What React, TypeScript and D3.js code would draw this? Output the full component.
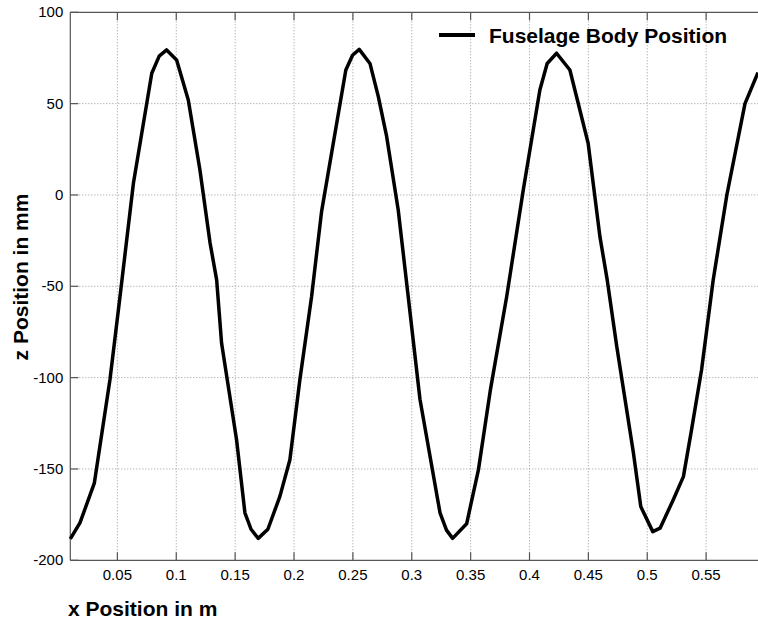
import React, { useEffect, useRef } from 'react';
import * as d3 from 'd3';

// values
const xPos = [0.01, 0.0182, 0.0304, 0.0437, 0.0522, 0.0636, 0.0792, 0.0855, 0.0918, 0.1003, 0.1102, 0.1201, 0.1287, 0.1343, 0.1385, 0.1512, 0.1583, 0.1635, 0.1696,
  0.1778, 0.188, 0.1965, 0.205, 0.2149, 0.2234, 0.244, 0.2497, 0.2554, 0.2645, 0.2716, 0.2787, 0.2885, 0.297, 0.307, 0.324, 0.3295, 0.3347,
  0.3466, 0.3566, 0.3667, 0.3806, 0.3947, 0.4088, 0.415, 0.423, 0.4343, 0.4498, 0.4598, 0.466, 0.4741, 0.4882, 0.4945, 0.5047,
  0.5109, 0.522, 0.5307, 0.5376, 0.5461, 0.556, 0.5676, 0.583, 0.594];
const zPos = [-188.3, -179.5, -157.8, -101, -55.7, 6.4, 66.6, 76, 79.4, 73.9, 52, 13.7, -26.3, -46.5, -81.2, -134, -174, -183, -188,
  -183, -165, -145, -101, -55.7, -9.1, 68.4, 76.5, 79.7, 72, 53.8, 31.9, -8.2, -55.7, -112, -174, -183.5, -188,
  -180, -150.5, -107, -55.7, 2.7, 57.5, 72, 77.6, 68.4, 28.3, -22.8, -46.5, -83, -141, -170.6, -184.3,
  -182.4, -167, -154.2, -128.6, -95.8, -46.5, 0, 50, 67];

const xTicks = [0.05, 0.1, 0.15, 0.2, 0.25, 0.3, 0.35, 0.4, 0.45, 0.5, 0.55];
const yTicks = [100, 50, 0, -50, -100, -150, -200];

const W = 758;
const H = 622;
const margin = { left: 70.3, top: 12.3, right: 765, bottom: 560.3 };

const App = () => {
  const svgRef = useRef<SVGSVGElement>(null);

  useEffect(() => {
    const svg = d3.select(svgRef.current);
    svg.selectAll('*').remove();

    const x = d3.scaleLinear().domain([0.01, 0.6]).range([margin.left, margin.right]);
    const y = d3.scaleLinear().domain([-200, 100]).range([margin.bottom, margin.top]);
    const font = 'Liberation Sans, Arial, Helvetica, sans-serif';

    // dotted grid
    const grid = svg.append('g').attr('stroke', '#999').attr('stroke-width', 1).attr('stroke-dasharray', '1,2');
    grid.selectAll('.vg').data(xTicks).enter().append('line')
      .attr('x1', d => x(d)).attr('x2', d => x(d))
      .attr('y1', margin.top).attr('y2', margin.bottom);
    grid.selectAll('.hg').data(yTicks.filter(d => d > -200 && d < 100)).enter().append('line')
      .attr('x1', margin.left).attr('x2', W)
      .attr('y1', d => y(d)).attr('y2', d => y(d));

    // frame + inward ticks
    const axes = svg.append('g').attr('stroke', '#555').attr('stroke-width', 1.2).attr('fill', 'none');
    axes.append('line').attr('x1', margin.left).attr('x2', W).attr('y1', margin.top).attr('y2', margin.top);
    axes.append('line').attr('x1', margin.left).attr('x2', W).attr('y1', margin.bottom).attr('y2', margin.bottom);
    axes.append('line').attr('x1', margin.left).attr('x2', margin.left).attr('y1', margin.top).attr('y2', margin.bottom);
    xTicks.forEach(t => {
      axes.append('line').attr('x1', x(t)).attr('x2', x(t)).attr('y1', margin.bottom).attr('y2', margin.bottom - 8);
      axes.append('line').attr('x1', x(t)).attr('x2', x(t)).attr('y1', margin.top).attr('y2', margin.top + 8);
    });
    yTicks.forEach(t => {
      axes.append('line').attr('x1', margin.left).attr('x2', margin.left + 8).attr('y1', y(t)).attr('y2', y(t));
    });

    // tick labels
    svg.selectAll('.xt').data(xTicks).enter().append('text')
      .attr('x', d => x(d)).attr('y', margin.bottom + 20)
      .attr('text-anchor', 'middle').attr('font-family', font).attr('font-size', 15)
      .text(d => String(d));
    svg.selectAll('.yt').data(yTicks).enter().append('text')
      .attr('x', margin.left - 7).attr('y', d => y(d) + 5)
      .attr('text-anchor', 'end').attr('font-family', font).attr('font-size', 15)
      .text(d => String(d));

    // axis titles
    svg.append('text').attr('x', 68).attr('y', 616)
      .attr('font-family', font).attr('font-size', 21).attr('font-weight', 'bold')
      .text('x Position in m');
    svg.append('text').attr('transform', 'translate(28,277) rotate(-90)')
      .attr('text-anchor', 'middle')
      .attr('font-family', font).attr('font-size', 21).attr('font-weight', 'bold')
      .text('z Position in mm');

    // the curve
    const pts = xPos.map((v, i) => [v, zPos[i]] as [number, number]);
    const line = d3.line<[number, number]>().x(d => x(d[0])).y(d => y(d[1]));
    svg.append('path').datum(pts)
      .attr('d', line)
      .attr('fill', 'none').attr('stroke', '#000').attr('stroke-width', 3.5)
      .attr('stroke-linejoin', 'round');

    // legend
    svg.append('line').attr('x1', 439).attr('x2', 475).attr('y1', 35).attr('y2', 35)
      .attr('stroke', '#000').attr('stroke-width', 4);
    svg.append('text').attr('x', 489).attr('y', 43)
      .attr('font-family', font).attr('font-size', 21).attr('font-weight', 'bold')
      .text('Fuselage Body Position');
  }, []);

  return (
    <svg ref={svgRef} width={W} height={H}
      style={{ position: 'absolute', left: 0, top: 0, background: '#fff' }}></svg>
  );
};

export default App;
